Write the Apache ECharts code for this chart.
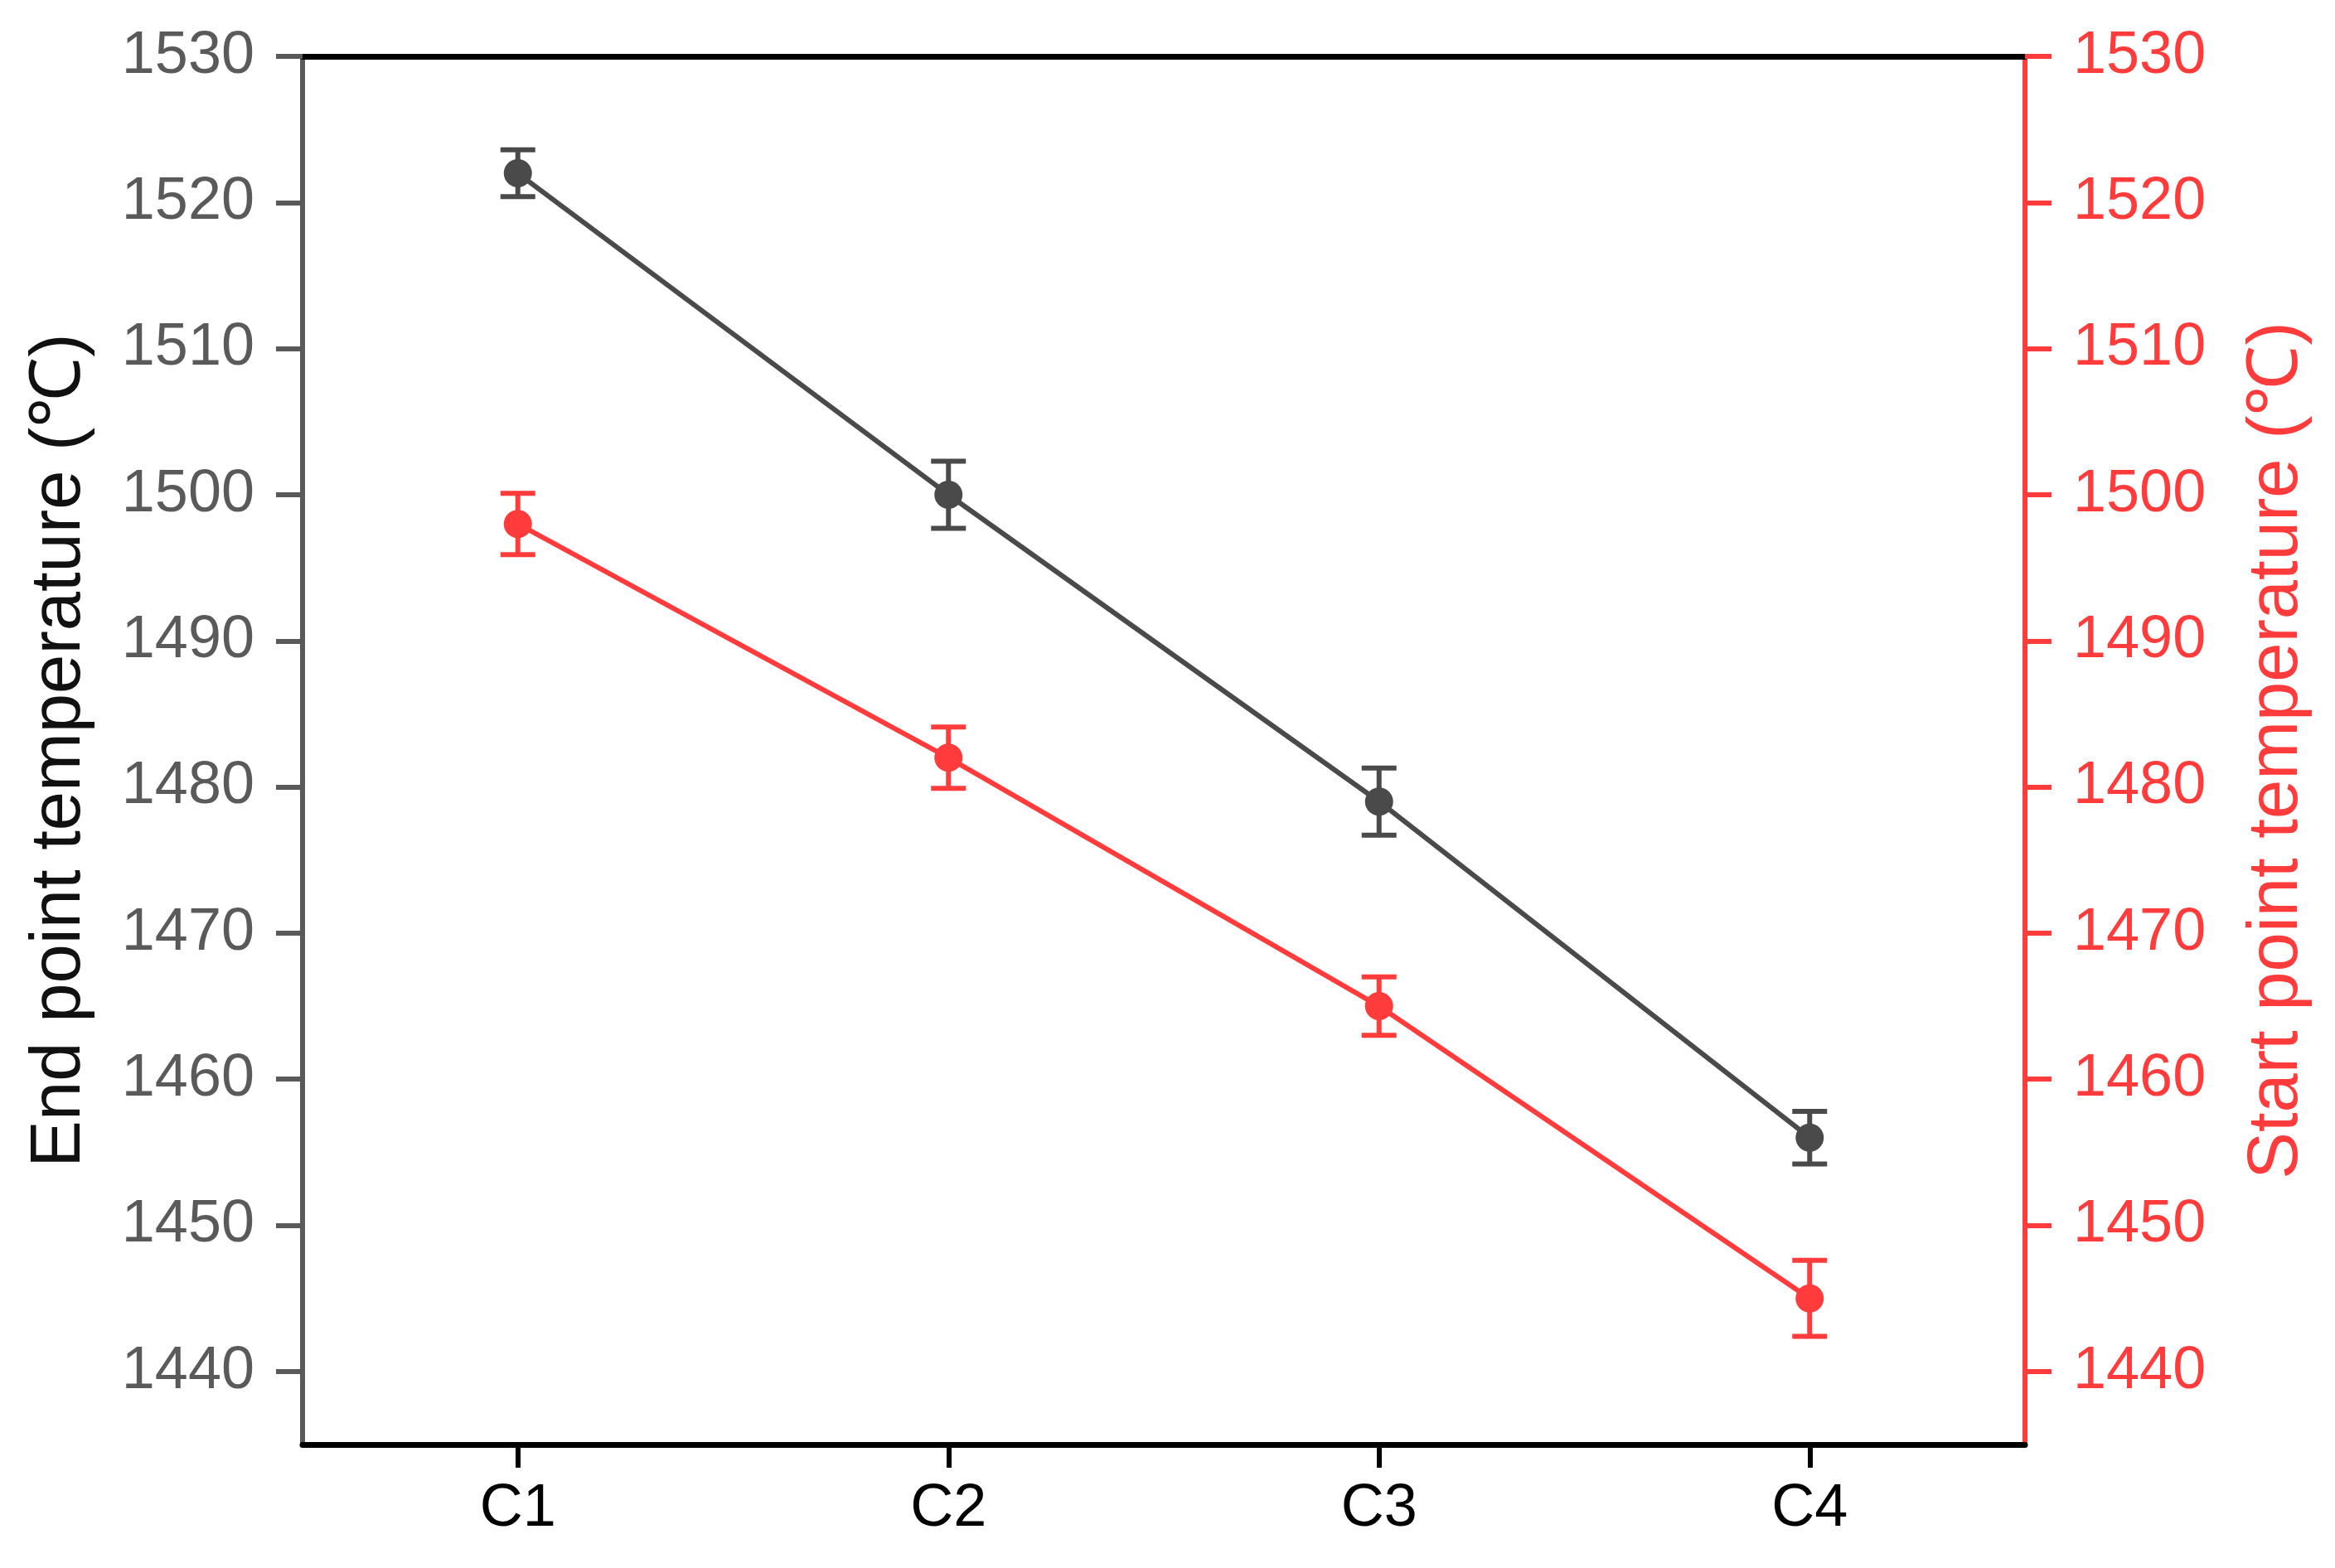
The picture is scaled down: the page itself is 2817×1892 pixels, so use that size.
<!DOCTYPE html>
<html>
<head>
<meta charset="utf-8">
<script src="https://cdn.jsdelivr.net/npm/echarts@6/dist/echarts.min.js"></script>
<style>
html,body{margin:0;padding:0;background:#fff;}
#chart{width:2817px;height:1892px;}
</style>
</head>
<body>
<div id="chart"></div>
<script>
const categories = ['C1', 'C2', 'C3', 'C4'];
const endTemp = [1522, 1500, 1479, 1456];
const endErr = [1.6, 2.3, 2.3, 1.8];
const startTemp = [1498, 1482, 1465, 1445];
const startErr = [2.1, 2.1, 2.0, 2.6];
const tickValues = [1440, 1450, 1460, 1470, 1480, 1490, 1500, 1510, 1520, 1530];

const FONT = 'Liberation Sans, Arial, sans-serif';
const GRAY = '#4a4a4a';
const RED = '#ff3b3b';

function errData(vals, errs) {
  return vals.map((v, i) => [i, v - errs[i], v + errs[i]]);
}
function errRender(color) {
  return function (params, api) {
    const x = api.value(0);
    const lo = api.coord([x, api.value(1)]);
    const hi = api.coord([x, api.value(2)]);
    const w = 21;
    const style = { stroke: color, lineWidth: 6 };
    return {
      type: 'group',
      children: [
        { type: 'line', shape: { x1: lo[0], y1: lo[1], x2: hi[0], y2: hi[1] }, style },
        { type: 'line', shape: { x1: lo[0] - w, y1: lo[1], x2: lo[0] + w, y2: lo[1] }, style },
        { type: 'line', shape: { x1: hi[0] - w, y1: hi[1], x2: hi[0] + w, y2: hi[1] }, style }
      ]
    };
  };
}

function yAxisCfg(pos, color, name) {
  return {
    type: 'value',
    position: pos,
    min: 1435,
    max: 1530,
    name: name,
    nameLocation: 'middle',
    nameRotate: 90,
    nameGap: pos === 'left' ? 250 : 262,
    nameTextStyle: { fontFamily: FONT, fontSize: 85, color: pos === 'left' ? '#111' : RED },
    axisLine: { show: true, onZero: false, lineStyle: { color: color, width: 6 } },
    axisTick: { show: true, inside: false, length: 32, lineStyle: { color: color, width: 6 }, customValues: tickValues },
    axisLabel: {
      show: true, margin: 58, fontFamily: FONT, fontSize: 72, color: color,
      customValues: tickValues,
      formatter: function (v) { return String(Math.round(v)); }
    },
    splitLine: { show: false }
  };
}

const chart = echarts.init(document.getElementById('chart'));
chart.setOption({
  backgroundColor: '#fff',
  animation: false,
  grid: { left: 365, right: 374, top: 68, bottom: 149, containLabel: false },
  xAxis: [
    {
      type: 'category',
      data: categories,
      position: 'bottom',
      boundaryGap: true,
      axisLine: { show: true, onZero: false, lineStyle: { color: '#000', width: 7 } },
      axisTick: { show: true, alignWithLabel: true, length: 28, lineStyle: { color: '#000', width: 6 } },
      axisLabel: { margin: 42, fontFamily: FONT, fontSize: 72, color: '#000' },
      splitLine: { show: false }
    },
    {
      type: 'category',
      data: categories,
      position: 'top',
      boundaryGap: true,
      axisLine: { show: true, onZero: false, lineStyle: { color: '#000', width: 7 } },
      axisTick: { show: false },
      axisLabel: { show: false },
      splitLine: { show: false }
    }
  ],
  yAxis: [
    yAxisCfg('left', '#5a5a5a', 'End point temperature (℃)'),
    yAxisCfg('right', RED, 'Start point temperature (℃)')
  ],
  series: [
    {
      type: 'line',
      name: 'End',
      data: endTemp,
      xAxisIndex: 0,
      yAxisIndex: 0,
      symbol: 'circle',
      symbolSize: 34,
      itemStyle: { color: GRAY },
      lineStyle: { color: GRAY, width: 6 },
      z: 3
    },
    {
      type: 'custom',
      name: 'EndErr',
      xAxisIndex: 0,
      yAxisIndex: 0,
      data: errData(endTemp, endErr),
      encode: { x: 0, y: [1, 2] },
      renderItem: errRender(GRAY),
      z: 4
    },
    {
      type: 'line',
      name: 'Start',
      data: startTemp,
      xAxisIndex: 0,
      yAxisIndex: 1,
      symbol: 'circle',
      symbolSize: 34,
      itemStyle: { color: RED },
      lineStyle: { color: RED, width: 6 },
      z: 3
    },
    {
      type: 'custom',
      name: 'StartErr',
      xAxisIndex: 0,
      yAxisIndex: 1,
      data: errData(startTemp, startErr),
      encode: { x: 0, y: [1, 2] },
      renderItem: errRender(RED),
      z: 4
    }
  ]
});
</script>
</body>
</html>
